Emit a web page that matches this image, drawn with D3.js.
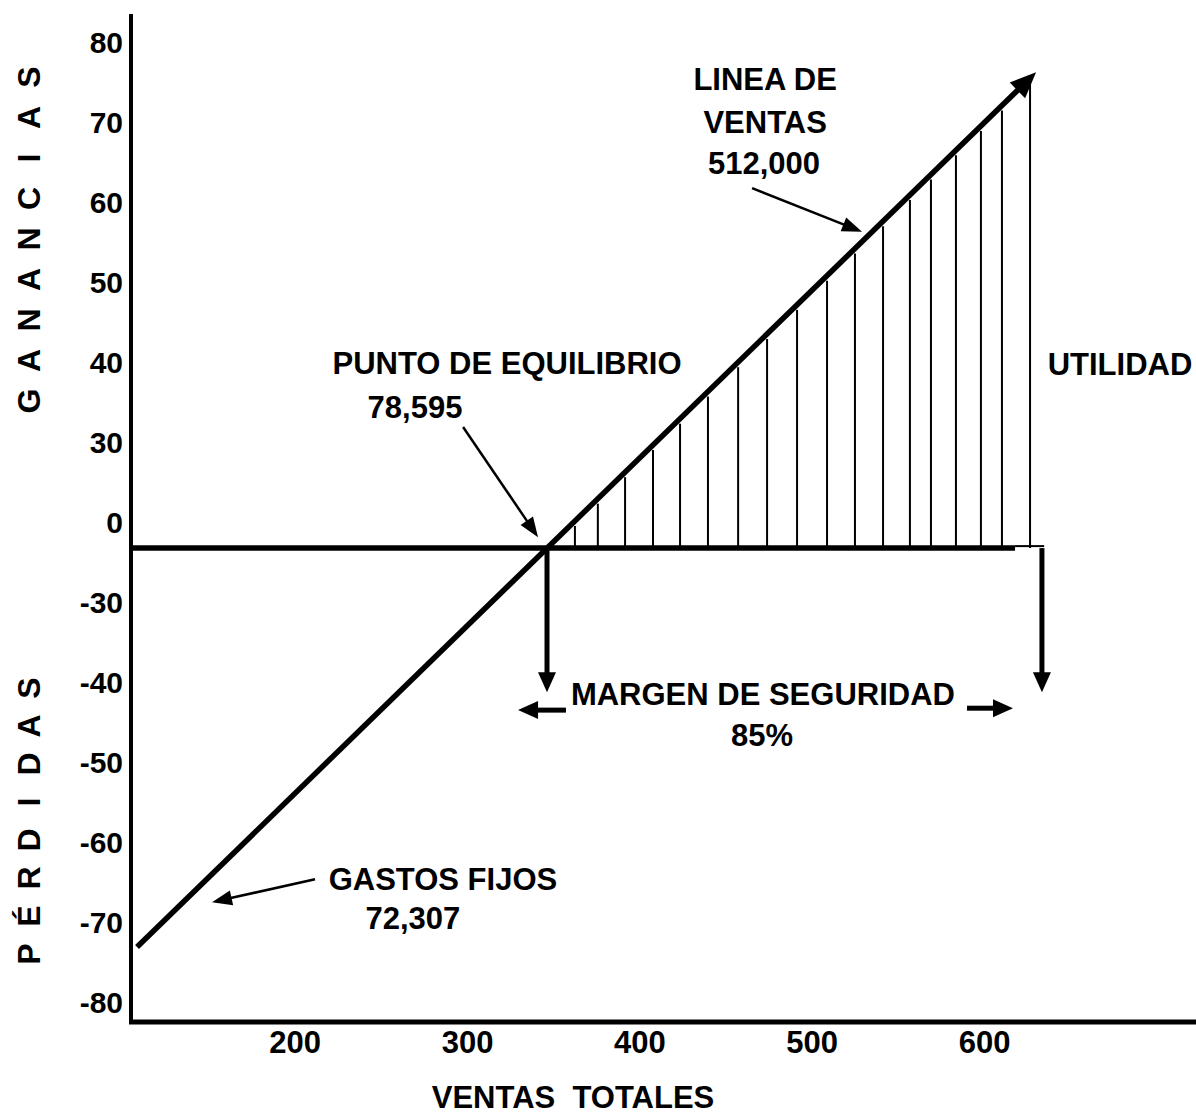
<!DOCTYPE html>
<html>
<head>
<meta charset="utf-8">
<script src="https://cdn.jsdelivr.net/npm/d3@7"></script>
<style>
  body { margin: 0; background: #fff; }
  svg { display: block; font-family: "Liberation Sans", Arial, sans-serif; font-weight: bold; }
</style>
</head>
<body>
<svg id="chart"></svg>
<script>
// ---- data (ventas in thousands, resultado in thousands) ----
const ventasTicks = [200, 300, 400, 500, 600]
const resultadoLabels = ['80', '70', '60', '50', '40', '30', '0', '-30', '-40', '-50', '-60', '-70', '-80']

// sales line: starts at the fixed costs, ends in the arrow
const lineaVentas = [
    { ventas: 108.5, resultado: -62.3 },
    { ventas: 630.2, resultado: 74.3 }
]

// vertical hatching of the profit area
const rayadoUtilidad = [362.6, 375.9, 391.7, 407.9, 423.6, 439.8, 457.3, 474.1, 491.5,
    508.9, 525.1, 541.4, 557.0, 569.2, 583.7, 598.2, 610.4, 626.7]

// zero line and the small step at its end
const lineaCero = [105, 618]
const escalon = [618, 634.9]

// annotation texts
const textos = [
    { texto: 'LINEA DE', ventas: 473, resultado: 73.1 },
    { texto: 'VENTAS', ventas: 473, resultado: 66.5 },
    { texto: '512,000', ventas: 472.3, resultado: 60.1 },
    { texto: 'PUNTO DE EQUILIBRIO', ventas: 323.2, resultado: 28.9 },
    { texto: '78,595', ventas: 269.8, resultado: 22.0 },
    { texto: 'UTILIDAD', ventas: 678.9, resultado: 28.6 },
    { texto: 'MARGEN DE SEGURIDAD', ventas: 471.7, resultado: -22.8 },
    { texto: '85%', ventas: 471.2, resultado: -29.2 },
    { texto: 'GASTOS FIJOS', ventas: 286.0, resultado: -51.8 },
    { texto: '72,307', ventas: 268.6, resultado: -57.8 }
]

// annotation arrows: thin pointers and thick margin arrows
const flechasFinas = [
    { de: [297.7, 18.9], a: [341.2, 1.7] },
    { de: [465.4, 56.2], a: [529.2, 49.4] },
    { de: [211.8, -51.7], a: [152.0, -55.3] }
]
const flechasGruesas = [
    { de: [346.4, 0], a: [346.4, -22.5] },
    { de: [633.6, 0], a: [633.6, -22.5] },
    { de: [357.4, -25.3], a: [329.6, -25.3] },
    { de: [590.1, -25.0], a: [616.8, -25.0] }
]

const tituloGanancias = 'GANANCIAS'
const tituloPerdidas = 'PÉRDIDAS'

// ---- set up ----
const width = 1196
const height = 1113

const svg = d3.select('#chart')
    .attr('width', width)
    .attr('height', height)

const xScale = d3.scaleLinear()
    .domain([105, 723])
    .range([131, 1196])

const yScale = d3.scaleLinear()
    .domain([-74, 83.4])
    .range([1022, 14])

// the printed y labels are evenly spaced, not a real linear scale
const yLabels = d3.scalePoint()
    .domain(resultadoLabels)
    .range([43, 1003])

// arrow = shaft + triangular head
const arrow = (g, x1, y1, x2, y2, w, len, half) => {
    const dx = x2 - x1, dy = y2 - y1
    const L = Math.hypot(dx, dy)
    const ux = dx / L, uy = dy / L
    const bx = x2 - ux * len, by = y2 - uy * len
    g.append('line')
        .attr('x1', x1).attr('y1', y1)
        .attr('x2', bx + ux * 2).attr('y2', by + uy * 2)
        .attr('stroke', '#000')
        .attr('stroke-width', w)
    g.append('path')
        .attr('d', `M${x2},${y2}L${bx - uy * half},${by + ux * half}L${bx + uy * half},${by - ux * half}Z`)
        .attr('fill', '#000')
}

// ---- axes ----
const [x0, x1] = xScale.domain()
const [y0, y1] = yScale.domain()

svg.append('line')
    .attr('x1', xScale(x0)).attr('x2', xScale(x0))
    .attr('y1', yScale(y1)).attr('y2', yScale(y0))
    .attr('stroke', '#000').attr('stroke-width', 4)

svg.append('line')
    .attr('x1', xScale(x0) - 2).attr('x2', xScale(x1))
    .attr('y1', yScale(y0)).attr('y2', yScale(y0))
    .attr('stroke', '#000').attr('stroke-width', 5)

const yAxis = svg.append('g')
    .attr('transform', `translate(${xScale(x0)},0)`)
    .call(d3.axisLeft(yLabels).tickSize(0).tickPadding(8))
yAxis.select('.domain').remove()
yAxis.selectAll('text')
    .attr('font-size', 30)
    .attr('font-family', '"Liberation Sans", Arial, sans-serif')
    .attr('font-weight', 'bold')
    .attr('fill', '#000')

const xAxis = svg.append('g')
    .attr('transform', `translate(0,${yScale(y0)})`)
    .call(d3.axisBottom(xScale).tickValues(ventasTicks).tickSize(0).tickPadding(9))
xAxis.select('.domain').remove()
xAxis.selectAll('text')
    .attr('font-size', 31)
    .attr('font-family', '"Liberation Sans", Arial, sans-serif')
    .attr('font-weight', 'bold')
    .attr('fill', '#000')

svg.append('text')
    .attr('x', 573)
    .attr('y', 1097)
    .attr('text-anchor', 'middle')
    .attr('dominant-baseline', 'central')
    .attr('font-size', 31)
    .text('VENTAS  TOTALES')
    .style('white-space', 'pre')

// rotated axis titles, one letter at a time
const drawTitle = (word, centerY, step) => {
    const n = word.length
    svg.append('g')
        .selectAll('text')
        .data(word.split(''))
        .enter()
        .append('text')
        .attr('transform', (d, i) => `translate(29,${centerY + ((n - 1) / 2 - i) * step}) rotate(-90)`)
        .attr('text-anchor', 'middle')
        .attr('dominant-baseline', 'central')
        .attr('font-size', 32)
        .text(d => d)
}
drawTitle(tituloGanancias, 239, 40.5)
drawTitle(tituloPerdidas, 821, 38)

// ---- chart marks ----
const salesAt = v => {
    const [a, b] = lineaVentas
    return a.resultado + (v - a.ventas) * (b.resultado - a.resultado) / (b.ventas - a.ventas)
}

svg.append('g')
    .selectAll('line')
    .data(rayadoUtilidad)
    .enter()
    .append('line')
    .attr('x1', d => xScale(d))
    .attr('x2', d => xScale(d))
    .attr('y1', yScale(0))
    .attr('y2', d => yScale(salesAt(d)) + 5)
    .attr('stroke', '#000')
    .attr('stroke-width', 2)

svg.append('line')
    .attr('x1', xScale(lineaCero[0])).attr('x2', xScale(lineaCero[1]))
    .attr('y1', yScale(0)).attr('y2', yScale(0))
    .attr('stroke', '#000').attr('stroke-width', 5.5)

svg.append('line')
    .attr('x1', xScale(escalon[0])).attr('x2', xScale(escalon[1]))
    .attr('y1', yScale(0) - 2).attr('y2', yScale(0) - 2)
    .attr('stroke', '#000').attr('stroke-width', 2)

const marks = svg.append('g')
arrow(marks,
    xScale(lineaVentas[0].ventas), yScale(lineaVentas[0].resultado),
    xScale(lineaVentas[1].ventas), yScale(lineaVentas[1].resultado),
    5.5, 26, 11)

flechasFinas.forEach(f => arrow(marks,
    xScale(f.de[0]), yScale(f.de[1]), xScale(f.a[0]), yScale(f.a[1]), 2.5, 20, 7.5))

flechasGruesas.forEach(f => arrow(marks,
    xScale(f.de[0]), yScale(f.de[1]), xScale(f.a[0]), yScale(f.a[1]), 5, 20, 9))

// ---- annotations ----
svg.append('g')
    .selectAll('text')
    .data(textos)
    .enter()
    .append('text')
    .attr('x', d => xScale(d.ventas))
    .attr('y', d => yScale(d.resultado))
    .attr('text-anchor', 'middle')
    .attr('dominant-baseline', 'central')
    .attr('font-size', 31)
    .text(d => d.texto)
</script>
</body>
</html>
